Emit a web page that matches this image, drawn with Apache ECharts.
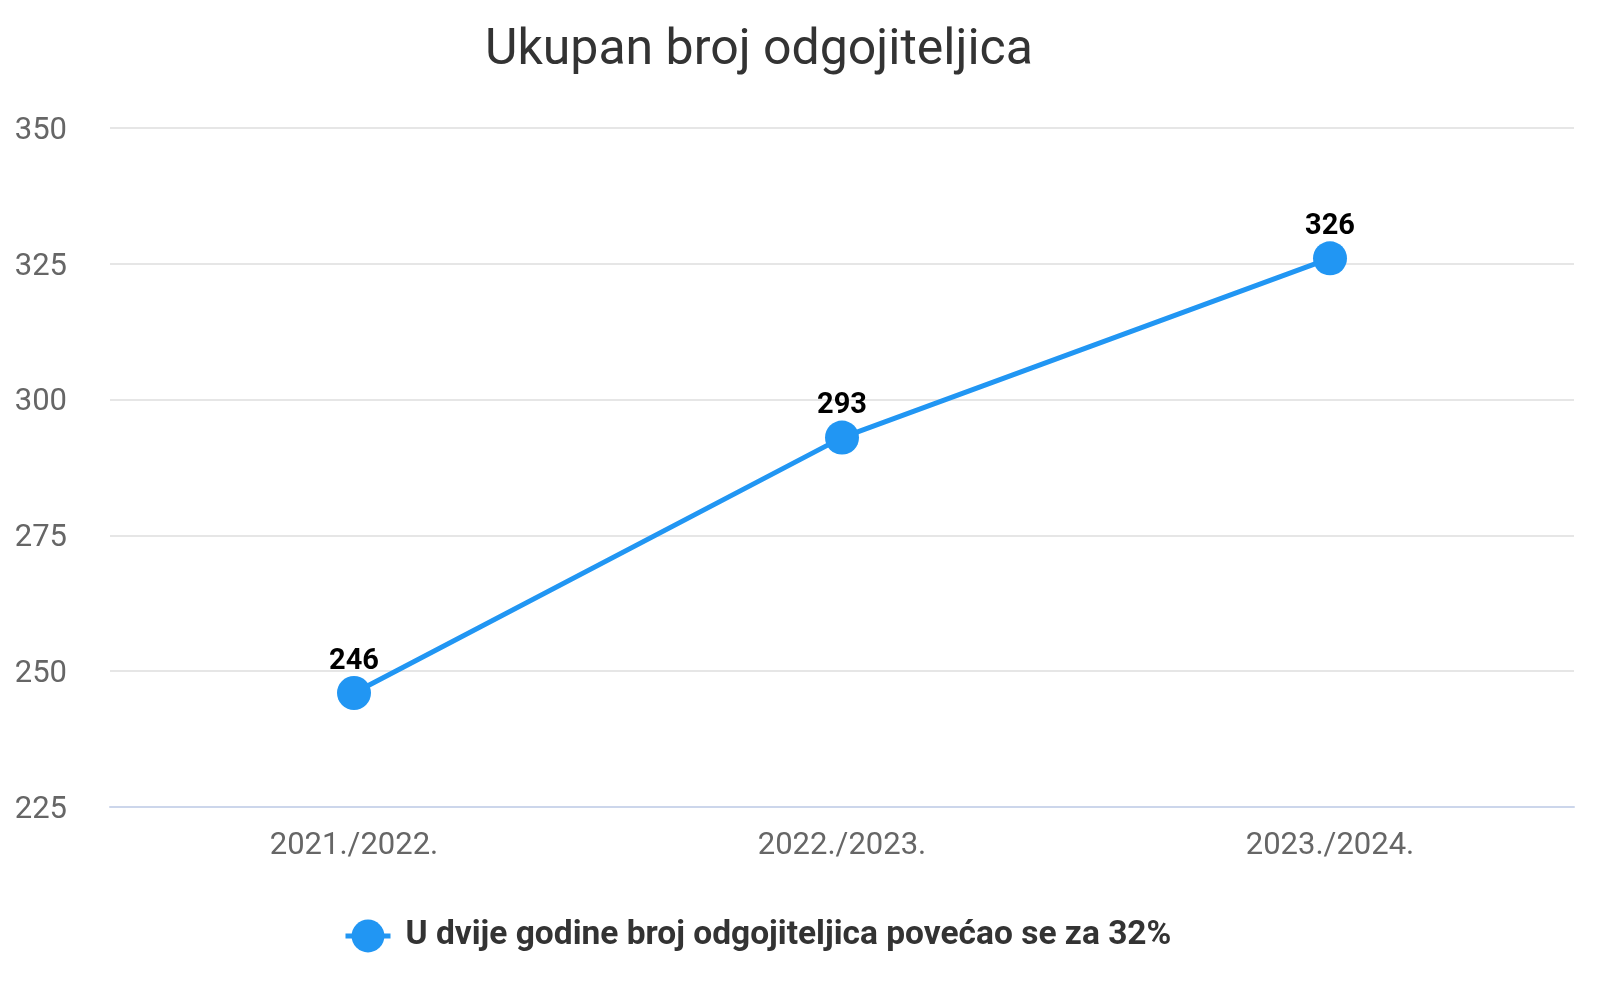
<!DOCTYPE html>
<html>
<head>
<meta charset="utf-8">
<title>Ukupan broj odgojiteljica</title>
<script src="https://cdn.jsdelivr.net/npm/echarts@6/dist/echarts.min.js"></script>
<style>
  html, body { margin: 0; padding: 0; background: #fff; }
  #chart { width: 1600px; height: 1008px; }
</style>
</head>
<body>
<div id="chart"></div>
<script>
'use strict'
// school years on the x axis
var years = ['2021./2022.', '2022./2023.', '2023./2024.']
// number of preschool teachers
var teachers = [246, 293, 326]
var seriesName = 'U dvije godine broj odgojiteljica povećao se za 32%'
var yMin = 225
var yMax = 350
var yStep = 25

function drawChart () {
  var chart = echarts.init(document.getElementById('chart'))
  chart.setOption({
    textStyle: { fontFamily: 'Roboto' },
    title: {
      text: 'Ukupan broj odgojiteljica',
      left: 480,
      top: 21,
      textStyle: {
        fontFamily: 'Roboto',
        fontSize: 50,
        fontWeight: 'normal',
        color: '#333333'
      }
    },
    grid: {
      left: 110,
      right: 26,
      top: 128,
      bottom: 201
    },
    legend: {
      top: 914,
      left: 338,
      itemWidth: 45,
      itemHeight: 41,
      data: [seriesName],
      lineStyle: { width: 5 },
      textStyle: {
        fontFamily: 'Roboto',
        fontSize: 33.5,
        fontWeight: 'bold',
        color: '#333333',
        padding: [0, 0, 0, 10]
      }
    },
    xAxis: {
      type: 'category',
      data: years,
      boundaryGap: true,
      axisLine: { lineStyle: { color: '#ccd6eb', width: 2 } },
      axisTick: { show: false },
      axisLabel: {
        fontFamily: 'Roboto',
        fontSize: 31,
        color: '#666666',
        margin: 24
      }
    },
    yAxis: {
      type: 'value',
      min: yMin,
      max: yMax,
      interval: yStep,
      axisLine: { show: false },
      axisTick: { show: false },
      splitLine: { lineStyle: { color: '#e6e6e6', width: 2 } },
      axisLabel: {
        fontFamily: 'Roboto',
        fontSize: 31,
        color: '#666666',
        margin: 43,
        verticalAlign: 'top',
        lineHeight: 6
      }
    },
    series: [
      {
        name: seriesName,
        type: 'line',
        data: teachers,
        symbol: 'circle',
        symbolSize: 34,
        color: '#2196f3',
        lineStyle: { width: 5, color: '#2196f3' },
        itemStyle: { color: '#2196f3' },
        label: {
          show: true,
          position: 'top',
          distance: 0,
          fontFamily: 'Roboto',
          fontSize: 29,
          fontWeight: 'bold',
          color: '#000000'
        }
      }
    ]
  })
}

drawChart()
</script>
</body>
</html>
